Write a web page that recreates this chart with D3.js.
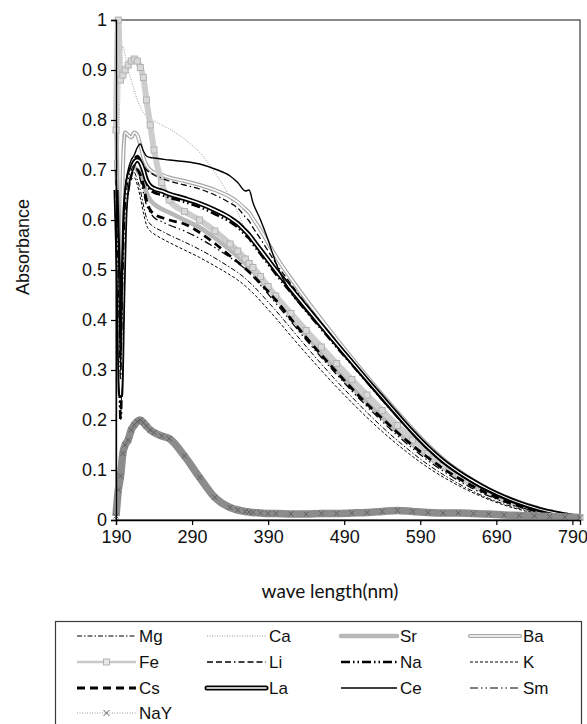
<!DOCTYPE html>
<html><head><meta charset="utf-8">
<script src="https://cdn.jsdelivr.net/npm/d3@7"></script>
<style>body{margin:0;background:#fff}</style>
</head><body>
<svg id="c" width="587" height="724"></svg>
<script>
// wavelength grid (nm)
const wl = [190,193,196,199,202,206,210,214,218,222,226,230,235,240,250,260,280,300,320,340,350,360,365,370,380,390,400,420,440,460,480,500,520,540,560,580,600,620,640,660,680,700,720,740,760,780,800];

const Mg = [0.62,0.42,0.25,0.45,0.60,0.665,0.69,0.695,0.68,0.66,0.63,0.605,0.592,0.586,0.578,0.570,0.556,0.541,0.524,0.505,0.495,0.483,0.476,0.469,0.453,0.436,0.419,0.383,0.347,0.312,0.278,0.246,0.215,0.186,0.159,0.134,0.111,0.091,0.073,0.057,0.043,0.032,0.023,0.015,0.009,0.005,0.002];
const Ca = [0.85,0.75,0.90,0.947,0.93,0.90,0.88,0.86,0.84,0.826,0.815,0.808,0.803,0.798,0.79,0.782,0.762,0.735,0.695,0.645,0.615,0.582,0.570,0.556,0.530,0.512,0.494,0.458,0.422,0.386,0.350,0.314,0.279,0.244,0.209,0.175,0.144,0.117,0.095,0.076,0.059,0.045,0.033,0.023,0.015,0.009,0.005];
const Sr = [0.84,0.55,0.35,0.55,0.64,0.68,0.70,0.705,0.70,0.69,0.675,0.655,0.64,0.632,0.622,0.615,0.60,0.585,0.564,0.54,0.527,0.513,0.505,0.497,0.48,0.463,0.446,0.408,0.37,0.334,0.299,0.266,0.235,0.205,0.177,0.151,0.127,0.105,0.086,0.068,0.053,0.04,0.029,0.02,0.013,0.008,0.004];
const Ba = [0.72,0.60,0.45,0.70,0.775,0.77,0.765,0.775,0.77,0.75,0.725,0.71,0.70,0.695,0.69,0.685,0.678,0.670,0.660,0.646,0.636,0.622,0.615,0.603,0.580,0.554,0.528,0.483,0.441,0.401,0.362,0.324,0.287,0.251,0.216,0.182,0.150,0.122,0.099,0.079,0.062,0.048,0.036,0.026,0.017,0.011,0.006];
const Fe = [0.78,1.0,0.88,0.89,0.90,0.91,0.918,0.922,0.918,0.905,0.885,0.84,0.79,0.74,0.675,0.64,0.617,0.60,0.578,0.552,0.538,0.522,0.513,0.505,0.487,0.467,0.448,0.413,0.379,0.346,0.313,0.281,0.25,0.219,0.189,0.16,0.133,0.109,0.088,0.07,0.055,0.042,0.031,0.022,0.015,0.009,0.005];
const Li = [0.68,0.52,0.30,0.50,0.64,0.69,0.71,0.72,0.725,0.72,0.71,0.70,0.695,0.69,0.684,0.678,0.670,0.662,0.650,0.634,0.624,0.606,0.598,0.585,0.562,0.538,0.514,0.472,0.432,0.394,0.356,0.319,0.283,0.248,0.213,0.179,0.148,0.120,0.097,0.078,0.061,0.047,0.035,0.025,0.016,0.010,0.005];
const Na = [0.64,0.45,0.20,0.40,0.60,0.67,0.70,0.72,0.728,0.72,0.70,0.675,0.66,0.655,0.65,0.645,0.636,0.626,0.612,0.596,0.585,0.570,0.563,0.552,0.532,0.512,0.492,0.455,0.418,0.382,0.346,0.311,0.276,0.241,0.207,0.174,0.143,0.117,0.095,0.076,0.059,0.045,0.033,0.023,0.015,0.009,0.004];
const K  = [0.60,0.40,0.20,0.40,0.58,0.65,0.68,0.685,0.67,0.645,0.615,0.59,0.578,0.572,0.563,0.555,0.54,0.525,0.508,0.49,0.48,0.468,0.461,0.454,0.438,0.421,0.404,0.368,0.333,0.299,0.266,0.235,0.205,0.177,0.151,0.127,0.105,0.086,0.069,0.054,0.041,0.030,0.021,0.014,0.009,0.005,0.002];
const Cs = [0.62,0.45,0.30,0.50,0.62,0.66,0.69,0.70,0.70,0.69,0.67,0.64,0.62,0.612,0.605,0.60,0.592,0.575,0.553,0.528,0.516,0.503,0.496,0.489,0.473,0.457,0.44,0.402,0.365,0.33,0.296,0.263,0.232,0.203,0.175,0.149,0.125,0.103,0.084,0.067,0.052,0.039,0.028,0.019,0.012,0.007,0.003];
const La = [0.66,0.50,0.25,0.45,0.62,0.68,0.70,0.715,0.72,0.715,0.70,0.68,0.668,0.663,0.658,0.652,0.643,0.633,0.620,0.604,0.593,0.578,0.570,0.560,0.540,0.520,0.500,0.463,0.426,0.389,0.352,0.316,0.280,0.245,0.210,0.176,0.145,0.118,0.096,0.077,0.060,0.046,0.034,0.024,0.016,0.010,0.005];
const Ce = [0.70,0.56,0.30,0.52,0.66,0.70,0.72,0.73,0.745,0.752,0.738,0.728,0.725,0.724,0.722,0.720,0.717,0.712,0.702,0.688,0.675,0.658,0.660,0.635,0.600,0.560,0.515,0.455,0.418,0.383,0.348,0.312,0.277,0.242,0.207,0.173,0.142,0.115,0.093,0.074,0.058,0.044,0.032,0.022,0.014,0.008,0.004];
const Sm = [0.66,0.48,0.28,0.48,0.62,0.68,0.70,0.71,0.70,0.68,0.655,0.63,0.615,0.605,0.597,0.59,0.578,0.563,0.545,0.525,0.514,0.502,0.495,0.487,0.470,0.452,0.434,0.397,0.360,0.325,0.291,0.258,0.227,0.197,0.169,0.143,0.119,0.098,0.079,0.062,0.048,0.036,0.026,0.018,0.011,0.006,0.003];
const NaY = [0.008,0.06,0.088,0.133,0.15,0.16,0.18,0.19,0.197,0.20,0.195,0.188,0.18,0.175,0.168,0.163,0.128,0.085,0.045,0.025,0.02,0.017,0.016,0.015,0.014,0.013,0.013,0.012,0.012,0.013,0.013,0.014,0.015,0.017,0.019,0.017,0.015,0.014,0.014,0.013,0.012,0.010,0.009,0.008,0.007,0.006,0.005];

const seriesNames = ["Mg","Ca","Sr","Ba","Fe","Li","Na","K","Cs","La","Ce","Sm","NaY"];
const seriesValues = {Mg,Ca,Sr,Ba,Fe,Li,Na,K,Cs,La,Ce,Sm,NaY};
const xTicks = [190,290,390,490,590,690,790];
const yTicks = [0,0.1,0.2,0.3,0.4,0.5,0.6,0.7,0.8,0.9,1];
const xTitle = "wave length(nm)";
const yTitle = "Absorbance";

// styles
const styles = {
  Mg: {layers:[{c:"#000",w:1,d:"5,2,1.5,2"}]},
  Ca: {layers:[{c:"#9a9a9a",w:1,d:"1,1.5"}]},
  Sr: {layers:[{c:"#b8b8b8",w:4.5}]},
  Ba: {layers:[{c:"#a6a6a6",w:4},{c:"#fff",w:1.6}]},
  Fe: {layers:[{c:"#cdcdcd",w:6}], marker:"square", legendLayers:[{c:"#c8c8c8",w:2.5}]},
  Li: {layers:[{c:"#000",w:1.3,d:"6,3,6,3,6,3,1.5,3"}]},
  Na: {layers:[{c:"#000",w:2.6,d:"9,3,1.5,3,1.5,3"}]},
  K:  {layers:[{c:"#000",w:1,d:"3,2"}]},
  Cs: {layers:[{c:"#000",w:2.8,d:"8,5"}]},
  La: {layers:[{c:"#000",w:5},{c:"#fff",w:1.5}]},
  Ce: {layers:[{c:"#000",w:1.4}]},
  Sm: {layers:[{c:"#000",w:1.2,d:"8,3,1.5,3,1.5,3"}]},
  NaY:{layers:[{c:"#8c8c8c",w:7.5}], marker:"x", legendLayers:[{c:"#9a9a9a",w:1,d:"1,1.5"}]}
};

const svg = d3.select("#c");
const L=116, R=580, T=20, B=520;
const x = d3.scaleLinear().domain([190,800]).range([L,R]);
const y = d3.scaleLinear().domain([0,1]).range([B,T]);

// plot border
svg.append("rect").attr("x",L).attr("y",T).attr("width",R-L).attr("height",B-T)
  .attr("fill","none").attr("stroke","#3a3a3a").attr("stroke-width",1.2);

const plot = svg.append("g");
const line = d3.line().x(d=>x(d[0])).y(d=>y(d[1])).curve(d3.curveMonotoneX);

function drawMarker(g, type, cx, cy, s, inPlot){
  if(type==="square"){
    g.append("rect").attr("x",cx-s/2).attr("y",cy-s/2).attr("width",s).attr("height",s)
      .attr("fill",inPlot?"#d9d9d9":"#e6e6e6").attr("stroke","#b3b3b3").attr("stroke-width",1);
  } else if(type==="x"){
    const h=s/2;
    g.append("path").attr("d",`M${cx-h},${cy-h}L${cx+h},${cy+h}M${cx-h},${cy+h}L${cx+h},${cy-h}`)
      .attr("stroke","#606060").attr("stroke-width",1).attr("fill","none");
  }
}

seriesNames.forEach(name=>{
  const pts = wl.map((w,i)=>[w, seriesValues[name][i]]);
  const st = styles[name];
  st.layers.forEach(l=>{
    plot.append("path").attr("d",line(pts)).attr("fill","none")
      .attr("stroke",l.c).attr("stroke-width",l.w)
      .attr("stroke-dasharray",l.d||null).attr("stroke-linejoin","round");
  });
  if(st.marker){
    const mg = plot.append("g");
    pts.forEach(p=>drawMarker(mg, st.marker, x(p[0]), y(p[1]), st.marker==="x"?5:6, true));
  }
});

// axes
const xAxis = d3.axisBottom(x).tickValues(xTicks).tickSize(5).tickFormat(d3.format("d"));
const yAxis = d3.axisLeft(y).tickValues(yTicks).tickSize(5).tickFormat(d=>d3.format("")(+d.toFixed(1)));
const gx = svg.append("g").attr("transform",`translate(0,${B})`).call(xAxis);
const gy = svg.append("g").attr("transform",`translate(${L},0)`).call(yAxis);
[gx,gy].forEach(g=>{
  g.select(".domain").attr("stroke","#000").attr("stroke-width",1.3);
  g.selectAll(".tick line").attr("stroke","#000").attr("stroke-width",1.2);
  g.selectAll(".tick text").attr("font-family","'Liberation Sans', Arial, sans-serif")
    .attr("font-size",18).attr("fill","#111");
});
gx.selectAll(".tick text").attr("dy","0.95em").attr("y",6);
gy.selectAll(".tick text").attr("x",-9);

svg.append("text").attr("x",330).attr("y",598).attr("text-anchor","middle")
  .attr("font-family","Lato, 'Open Sans', sans-serif").attr("font-size",19).attr("fill","#111")
  .text(xTitle);
svg.append("text").attr("transform",`translate(29,247) rotate(-90)`).attr("text-anchor","middle")
  .attr("font-family","'Liberation Sans', Arial, sans-serif").attr("font-size",18).attr("fill","#111")
  .text(yTitle);

// legend
svg.append("rect").attr("x",55.5).attr("y",621.5).attr("width",526).attr("height",110)
  .attr("fill","#fff").attr("stroke","#3a3a3a").attr("stroke-width",1.2);
const colSym = [77,207,341,470], colLab=[139,269,400,523];
const rowY = [636,662,688,713];
seriesNames.forEach((name,i)=>{
  const col=i%4, row=Math.floor(i/4);
  const x0=colSym[col], x1=colLab[col]-3, yy=rowY[row];
  const st=styles[name];
  const g=svg.append("g");
  const layers = st.legendLayers || st.layers;
  layers.forEach(l=>{
    g.append("line").attr("x1",x0).attr("x2",x1).attr("y1",yy).attr("y2",yy)
      .attr("stroke",l.c).attr("stroke-width",l.w).attr("stroke-dasharray",l.d||null)
      .attr("stroke-linecap",(name==="Sr"||name==="Ba"||name==="La")?"round":"butt");
  });
  if(st.marker) drawMarker(g, st.marker, (x0+x1)/2, yy, 6, false);
  svg.append("text").attr("x",colLab[col]).attr("y",yy+6)
    .attr("font-family","'Liberation Sans', Arial, sans-serif").attr("font-size",17).attr("fill","#111")
    .text(name);
});
</script>
</body></html>
